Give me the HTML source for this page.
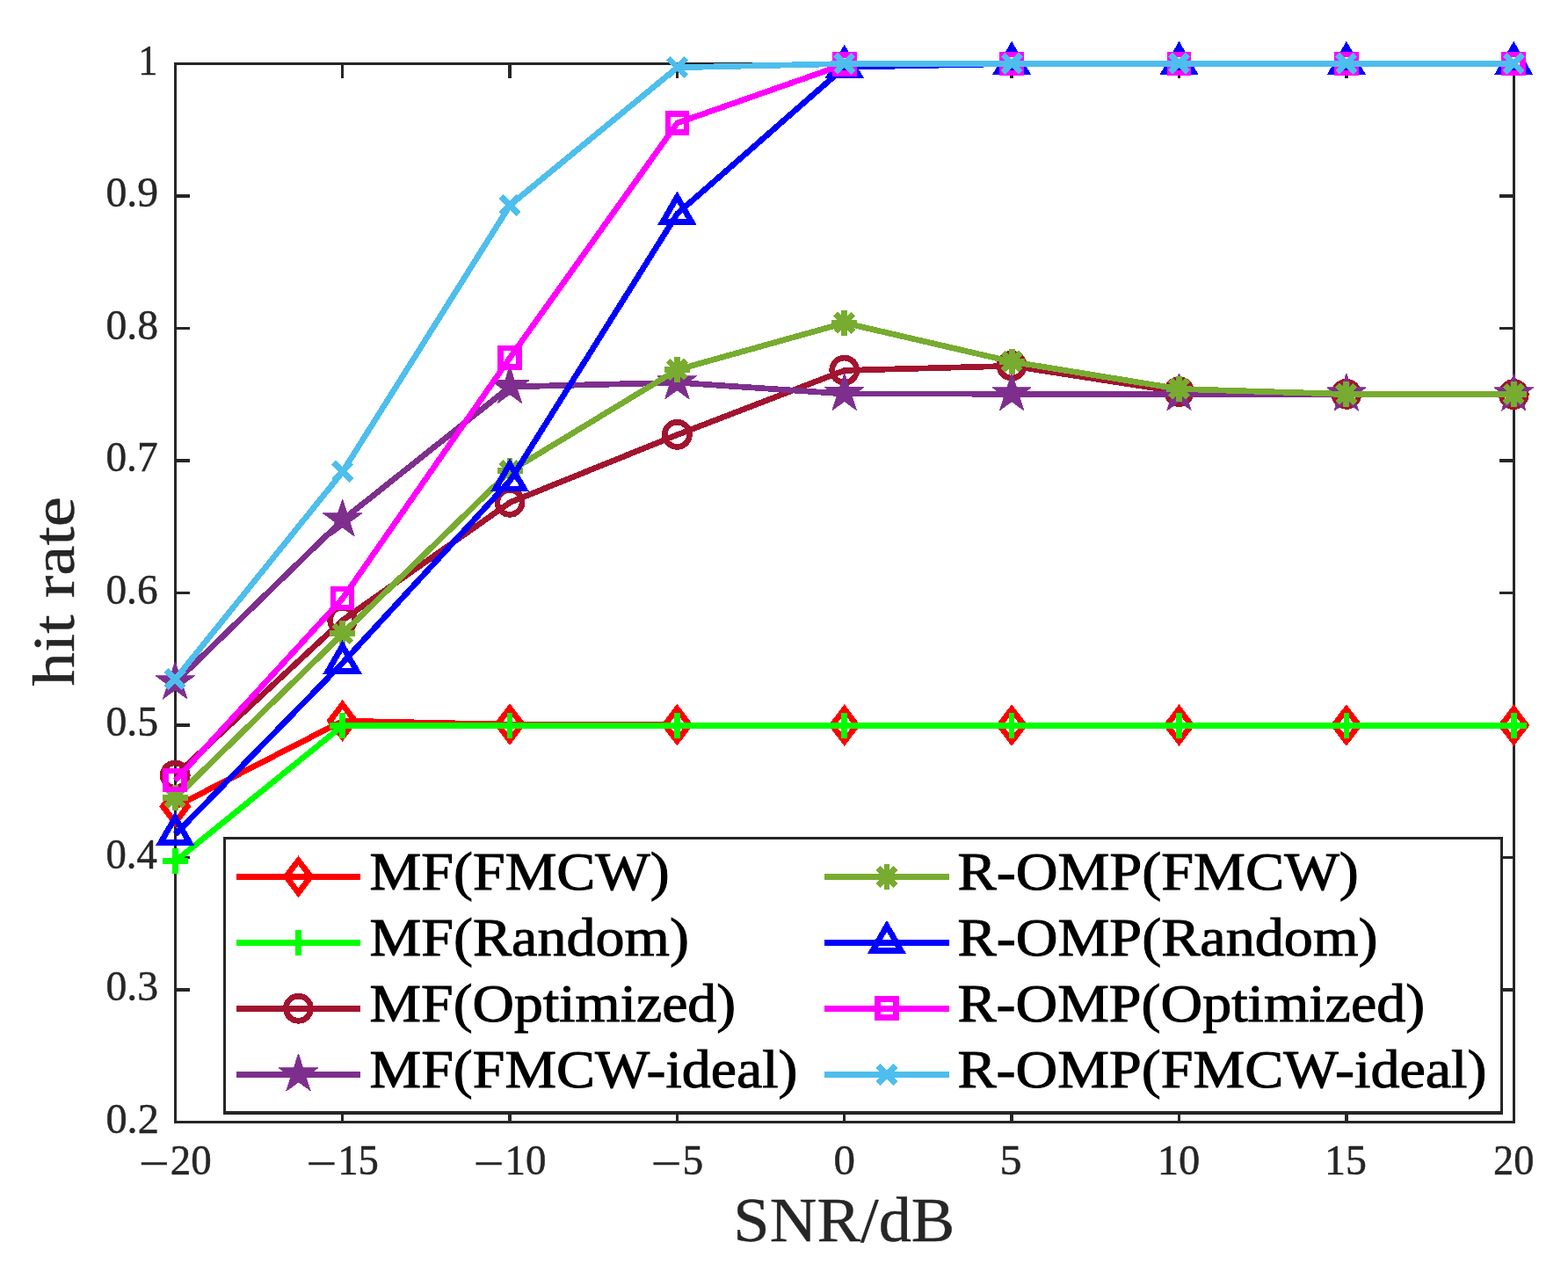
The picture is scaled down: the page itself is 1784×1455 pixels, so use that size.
<!DOCTYPE html>
<html lang="en"><head><meta charset="utf-8"><title>hit rate vs SNR/dB</title>
<style>html,body{margin:0;padding:0;background:#fff}body{width:1784px;height:1455px;overflow:hidden}svg{display:block}text{font-family:"Liberation Serif",serif;white-space:pre}</style>
</head><body>
<svg width="1784" height="1455" viewBox="0 0 1784 1455">
<rect width="1784" height="1455" fill="#ffffff"/>
<g fill="none" stroke="#262626" stroke-width="3.125" shape-rendering="crispEdges">
<rect x="199.5" y="72.5" width="1523" height="1204"/>
<path d="M389.5 72.5v16.5M389.5 1276.5v-16.5M580 72.5v16.5M580 1276.5v-16.5M770.5 72.5v16.5M770.5 1276.5v-16.5M960.5 72.5v16.5M960.5 1276.5v-16.5M1151 72.5v16.5M1151 1276.5v-16.5M1341.5 72.5v16.5M1341.5 1276.5v-16.5M1532 72.5v16.5M1532 1276.5v-16.5M199.5 223h16.5M1722.5 223h-16.5M199.5 373.5h16.5M1722.5 373.5h-16.5M199.5 524h16.5M1722.5 524h-16.5M199.5 674.5h16.5M1722.5 674.5h-16.5M199.5 825h16.5M1722.5 825h-16.5M199.5 975.5h16.5M1722.5 975.5h-16.5M199.5 1126h16.5M1722.5 1126h-16.5"/>
</g>
<text x="157.31" y="84.7" font-size="49" textLength="22.16" lengthAdjust="spacingAndGlyphs" fill="#262626" stroke="#262626" stroke-width="0.5">1</text>
<text x="120.45" y="235.2" font-size="49" textLength="59.65" lengthAdjust="spacingAndGlyphs" fill="#262626" stroke="#262626" stroke-width="0.5">0.9</text>
<text x="120.45" y="385.7" font-size="49" textLength="59.65" lengthAdjust="spacingAndGlyphs" fill="#262626" stroke="#262626" stroke-width="0.5">0.8</text>
<text x="120.46" y="536.2" font-size="49" textLength="59.14" lengthAdjust="spacingAndGlyphs" fill="#262626" stroke="#262626" stroke-width="0.5">0.7</text>
<text x="120.46" y="686.7" font-size="49" textLength="59.14" lengthAdjust="spacingAndGlyphs" fill="#262626" stroke="#262626" stroke-width="0.5">0.6</text>
<text x="120.45" y="837.2" font-size="49" textLength="59.65" lengthAdjust="spacingAndGlyphs" fill="#262626" stroke="#262626" stroke-width="0.5">0.5</text>
<text x="120.48" y="987.7" font-size="49" textLength="58.38" lengthAdjust="spacingAndGlyphs" fill="#262626" stroke="#262626" stroke-width="0.5">0.4</text>
<text x="120.45" y="1138.2" font-size="49" textLength="59.65" lengthAdjust="spacingAndGlyphs" fill="#262626" stroke="#262626" stroke-width="0.5">0.3</text>
<text x="120.42" y="1288.7" font-size="49" textLength="60.44" lengthAdjust="spacingAndGlyphs" fill="#262626" stroke="#262626" stroke-width="0.5">0.2</text>
<text y="1336" font-size="49" fill="#262626" stroke="#262626" stroke-width="0.5"><tspan x="158.32" y="1339.9" textLength="34.63" lengthAdjust="spacingAndGlyphs">−</tspan><tspan x="193.69" y="1336" textLength="46.93" lengthAdjust="spacingAndGlyphs">20</tspan></text>
<text y="1336" font-size="49" fill="#262626" stroke="#262626" stroke-width="0.5"><tspan x="348.72" y="1339.9" textLength="34.63" lengthAdjust="spacingAndGlyphs">−</tspan><tspan x="384.2" y="1336" textLength="46.65" lengthAdjust="spacingAndGlyphs">15</tspan></text>
<text y="1336" font-size="49" fill="#262626" stroke="#262626" stroke-width="0.5"><tspan x="539.07" y="1339.9" textLength="34.63" lengthAdjust="spacingAndGlyphs">−</tspan><tspan x="574.53" y="1336" textLength="46.95" lengthAdjust="spacingAndGlyphs">10</tspan></text>
<text y="1336" font-size="49" fill="#262626" stroke="#262626" stroke-width="0.5"><tspan x="741.02" y="1339.9" textLength="34.63" lengthAdjust="spacingAndGlyphs">−</tspan><tspan x="776.39" y="1336" textLength="23.69" lengthAdjust="spacingAndGlyphs">5</tspan></text>
<text y="1336" font-size="49" fill="#262626" stroke="#262626" stroke-width="0.5"><tspan x="948.4" y="1336" textLength="24.5" lengthAdjust="spacingAndGlyphs">0</tspan></text>
<text y="1336" font-size="49" fill="#262626" stroke="#262626" stroke-width="0.5"><tspan x="1137.64" y="1336" textLength="25.06" lengthAdjust="spacingAndGlyphs">5</tspan></text>
<text y="1336" font-size="49" fill="#262626" stroke="#262626" stroke-width="0.5"><tspan x="1316.69" y="1336" textLength="48.54" lengthAdjust="spacingAndGlyphs">10</tspan></text>
<text y="1336" font-size="49" fill="#262626" stroke="#262626" stroke-width="0.5"><tspan x="1506.99" y="1336" textLength="47.91" lengthAdjust="spacingAndGlyphs">15</tspan></text>
<text y="1336" font-size="49" fill="#262626" stroke="#262626" stroke-width="0.5"><tspan x="1699.02" y="1336" textLength="46.39" lengthAdjust="spacingAndGlyphs">20</tspan></text>
<text x="834.33" y="1411.7" font-size="71" textLength="252.09" lengthAdjust="spacingAndGlyphs" fill="#262626" stroke="#262626" stroke-width="0.4">SNR/dB</text>
<text transform="translate(83.9 779.8) rotate(-90)" x="-0.65" y="0" font-size="68" textLength="215.3" lengthAdjust="spacingAndGlyphs" fill="#262626" stroke="#262626" stroke-width="0.4">hit rate</text>
<g shape-rendering="crispEdges">
<g>
<polyline points="199.5,917.7 389.88,820.1 580.25,824.2 770.62,824.9 961,825.3 1151.38,825.3 1341.75,825.3 1532.12,825.3 1722.5,825.3" fill="none" stroke="#ff0000" stroke-width="6.7" stroke-linejoin="round"/>
<polygon points="199.25,899.05 213.25,917.45 199.25,935.85 185.25,917.45" fill="none" stroke="#ff0000" stroke-width="6.7" stroke-linejoin="miter" stroke-miterlimit="10"/>
<polygon points="389.62,801.45 403.62,819.85 389.62,838.25 375.62,819.85" fill="none" stroke="#ff0000" stroke-width="6.7" stroke-linejoin="miter" stroke-miterlimit="10"/>
<polygon points="580,805.55 594,823.95 580,842.35 566,823.95" fill="none" stroke="#ff0000" stroke-width="6.7" stroke-linejoin="miter" stroke-miterlimit="10"/>
<polygon points="770.38,806.25 784.38,824.65 770.38,843.05 756.38,824.65" fill="none" stroke="#ff0000" stroke-width="6.7" stroke-linejoin="miter" stroke-miterlimit="10"/>
<polygon points="960.75,806.65 974.75,825.05 960.75,843.45 946.75,825.05" fill="none" stroke="#ff0000" stroke-width="6.7" stroke-linejoin="miter" stroke-miterlimit="10"/>
<polygon points="1151.12,806.65 1165.12,825.05 1151.12,843.45 1137.12,825.05" fill="none" stroke="#ff0000" stroke-width="6.7" stroke-linejoin="miter" stroke-miterlimit="10"/>
<polygon points="1341.5,806.65 1355.5,825.05 1341.5,843.45 1327.5,825.05" fill="none" stroke="#ff0000" stroke-width="6.7" stroke-linejoin="miter" stroke-miterlimit="10"/>
<polygon points="1531.88,806.65 1545.88,825.05 1531.88,843.45 1517.88,825.05" fill="none" stroke="#ff0000" stroke-width="6.7" stroke-linejoin="miter" stroke-miterlimit="10"/>
<polygon points="1722.25,806.65 1736.25,825.05 1722.25,843.45 1708.25,825.05" fill="none" stroke="#ff0000" stroke-width="6.7" stroke-linejoin="miter" stroke-miterlimit="10"/>
</g>
<g>
<polyline points="199.5,979.7 389.88,825.4 580.25,825.4 770.62,825.4 961,825.4 1151.38,825.4 1341.75,825.4 1532.12,825.4 1722.5,825.4" fill="none" stroke="#00ff00" stroke-width="6.7" stroke-linejoin="round"/>
<path d="M184.7 979.45H213.8M199.25 964.9V994" fill="none" stroke="#00ff00" stroke-width="6.7"/>
<path d="M375.07 825.15H404.18M389.62 810.6V839.7" fill="none" stroke="#00ff00" stroke-width="6.7"/>
<path d="M565.45 825.15H594.55M580 810.6V839.7" fill="none" stroke="#00ff00" stroke-width="6.7"/>
<path d="M755.83 825.15H784.92M770.38 810.6V839.7" fill="none" stroke="#00ff00" stroke-width="6.7"/>
<path d="M946.2 825.15H975.3M960.75 810.6V839.7" fill="none" stroke="#00ff00" stroke-width="6.7"/>
<path d="M1136.58 825.15H1165.67M1151.12 810.6V839.7" fill="none" stroke="#00ff00" stroke-width="6.7"/>
<path d="M1326.95 825.15H1356.05M1341.5 810.6V839.7" fill="none" stroke="#00ff00" stroke-width="6.7"/>
<path d="M1517.33 825.15H1546.42M1531.88 810.6V839.7" fill="none" stroke="#00ff00" stroke-width="6.7"/>
<path d="M1707.7 825.15H1736.8M1722.25 810.6V839.7" fill="none" stroke="#00ff00" stroke-width="6.7"/>
</g>
<g>
<polyline points="199.5,882.3 389.88,705.5 580.25,571.6 770.62,494.6 961,421.4 1151.38,416.3 1341.75,445.8 1532.12,448.6 1722.5,448.8" fill="none" stroke="#a2142f" stroke-width="6.7" stroke-linejoin="round"/>
<circle cx="199.25" cy="882.05" r="14.05" fill="none" stroke="#a2142f" stroke-width="6.7"/>
<circle cx="389.62" cy="705.25" r="14.05" fill="none" stroke="#a2142f" stroke-width="6.7"/>
<circle cx="580" cy="571.35" r="14.05" fill="none" stroke="#a2142f" stroke-width="6.7"/>
<circle cx="770.38" cy="494.35" r="14.05" fill="none" stroke="#a2142f" stroke-width="6.7"/>
<circle cx="960.75" cy="421.15" r="14.05" fill="none" stroke="#a2142f" stroke-width="6.7"/>
<circle cx="1151.12" cy="416.05" r="14.05" fill="none" stroke="#a2142f" stroke-width="6.7"/>
<circle cx="1341.5" cy="445.55" r="14.05" fill="none" stroke="#a2142f" stroke-width="6.7"/>
<circle cx="1531.88" cy="448.35" r="14.05" fill="none" stroke="#a2142f" stroke-width="6.7"/>
<circle cx="1722.25" cy="448.55" r="14.05" fill="none" stroke="#a2142f" stroke-width="6.7"/>
</g>
<g>
<polyline points="199.5,776.3 389.88,591.4 580.25,440 770.62,435.2 961,448 1151.38,448.2 1341.75,448.3 1532.12,448.5 1722.5,448.5" fill="none" stroke="#7e2f8e" stroke-width="6.7" stroke-linejoin="round"/>
<polygon points="199.25,752.55 204.53,768.79 221.6,768.79 207.79,778.82 213.06,795.06 199.25,785.03 185.44,795.06 190.71,778.82 176.9,768.79 193.97,768.79" fill="#7e2f8e" stroke="#7e2f8e" stroke-width="0.8" stroke-linejoin="miter" stroke-miterlimit="10"/>
<polygon points="389.62,567.65 394.9,583.89 411.97,583.89 398.16,593.92 403.44,610.16 389.62,600.13 375.81,610.16 381.09,593.92 367.28,583.89 384.35,583.89" fill="#7e2f8e" stroke="#7e2f8e" stroke-width="0.8" stroke-linejoin="miter" stroke-miterlimit="10"/>
<polygon points="580,416.25 585.28,432.49 602.35,432.49 588.54,442.52 593.81,458.76 580,448.73 566.19,458.76 571.46,442.52 557.65,432.49 574.72,432.49" fill="#7e2f8e" stroke="#7e2f8e" stroke-width="0.8" stroke-linejoin="miter" stroke-miterlimit="10"/>
<polygon points="770.38,411.45 775.65,427.69 792.72,427.69 778.91,437.72 784.19,453.96 770.38,443.93 756.56,453.96 761.84,437.72 748.03,427.69 765.1,427.69" fill="#7e2f8e" stroke="#7e2f8e" stroke-width="0.8" stroke-linejoin="miter" stroke-miterlimit="10"/>
<polygon points="960.75,424.25 966.03,440.49 983.1,440.49 969.29,450.52 974.56,466.76 960.75,456.73 946.94,466.76 952.21,450.52 938.4,440.49 955.47,440.49" fill="#7e2f8e" stroke="#7e2f8e" stroke-width="0.8" stroke-linejoin="miter" stroke-miterlimit="10"/>
<polygon points="1151.12,424.45 1156.4,440.69 1173.47,440.69 1159.66,450.72 1164.94,466.96 1151.12,456.93 1137.31,466.96 1142.59,450.72 1128.78,440.69 1145.85,440.69" fill="#7e2f8e" stroke="#7e2f8e" stroke-width="0.8" stroke-linejoin="miter" stroke-miterlimit="10"/>
<polygon points="1341.5,424.55 1346.78,440.79 1363.85,440.79 1350.04,450.82 1355.31,467.06 1341.5,457.03 1327.69,467.06 1332.96,450.82 1319.15,440.79 1336.22,440.79" fill="#7e2f8e" stroke="#7e2f8e" stroke-width="0.8" stroke-linejoin="miter" stroke-miterlimit="10"/>
<polygon points="1531.88,424.75 1537.15,440.99 1554.22,440.99 1540.41,451.02 1545.69,467.26 1531.88,457.23 1518.06,467.26 1523.34,451.02 1509.53,440.99 1526.6,440.99" fill="#7e2f8e" stroke="#7e2f8e" stroke-width="0.8" stroke-linejoin="miter" stroke-miterlimit="10"/>
<polygon points="1722.25,424.75 1727.53,440.99 1744.6,440.99 1730.79,451.02 1736.06,467.26 1722.25,457.23 1708.44,467.26 1713.71,451.02 1699.9,440.99 1716.97,440.99" fill="#7e2f8e" stroke="#7e2f8e" stroke-width="0.8" stroke-linejoin="miter" stroke-miterlimit="10"/>
</g>
<g>
<polyline points="199.5,907.6 389.88,721 580.25,536 770.62,420.6 961,367.4 1151.38,411.5 1341.75,442.5 1532.12,448.4 1722.5,448.6" fill="none" stroke="#77ac30" stroke-width="6.7" stroke-linejoin="round"/>
<path d="M184.75 907.35H213.75M199.25 892.85V921.85M189.15 897.25L209.35 917.45M189.15 917.45L209.35 897.25" fill="none" stroke="#77ac30" stroke-width="6.8"/>
<path d="M375.12 720.75H404.12M389.62 706.25V735.25M379.52 710.65L399.73 730.85M379.52 730.85L399.73 710.65" fill="none" stroke="#77ac30" stroke-width="6.8"/>
<path d="M565.5 535.75H594.5M580 521.25V550.25M569.9 525.65L590.1 545.85M569.9 545.85L590.1 525.65" fill="none" stroke="#77ac30" stroke-width="6.8"/>
<path d="M755.88 420.35H784.88M770.38 405.85V434.85M760.27 410.25L780.48 430.45M760.27 430.45L780.48 410.25" fill="none" stroke="#77ac30" stroke-width="6.8"/>
<path d="M946.25 367.15H975.25M960.75 352.65V381.65M950.65 357.05L970.85 377.25M950.65 377.25L970.85 357.05" fill="none" stroke="#77ac30" stroke-width="6.8"/>
<path d="M1136.62 411.25H1165.62M1151.12 396.75V425.75M1141.03 401.15L1161.22 421.35M1141.03 421.35L1161.22 401.15" fill="none" stroke="#77ac30" stroke-width="6.8"/>
<path d="M1327 442.25H1356M1341.5 427.75V456.75M1331.4 432.15L1351.6 452.35M1331.4 452.35L1351.6 432.15" fill="none" stroke="#77ac30" stroke-width="6.8"/>
<path d="M1517.38 448.15H1546.38M1531.88 433.65V462.65M1521.78 438.05L1541.97 458.25M1521.78 458.25L1541.97 438.05" fill="none" stroke="#77ac30" stroke-width="6.8"/>
<path d="M1707.75 448.35H1736.75M1722.25 433.85V462.85M1712.15 438.25L1732.35 458.45M1712.15 458.45L1732.35 438.25" fill="none" stroke="#77ac30" stroke-width="6.8"/>
</g>
<g>
<polyline points="199.5,949.2 389.88,754 580.25,546.9 770.62,243.1 961,76.3 1151.38,72.5 1341.75,72.5 1532.12,72.5 1722.5,72.5" fill="none" stroke="#0000ff" stroke-width="6.7" stroke-linejoin="round"/>
<polygon points="199.25,930.1 215.57,958.38 182.93,958.38" fill="none" stroke="#0000ff" stroke-width="6.7" stroke-linejoin="miter" stroke-miterlimit="10"/>
<polygon points="389.62,734.9 405.95,763.17 373.3,763.17" fill="none" stroke="#0000ff" stroke-width="6.7" stroke-linejoin="miter" stroke-miterlimit="10"/>
<polygon points="580,527.8 596.32,556.07 563.68,556.07" fill="none" stroke="#0000ff" stroke-width="6.7" stroke-linejoin="miter" stroke-miterlimit="10"/>
<polygon points="770.38,224 786.7,252.28 754.05,252.28" fill="none" stroke="#0000ff" stroke-width="6.7" stroke-linejoin="miter" stroke-miterlimit="10"/>
<polygon points="960.75,57.2 977.07,85.47 944.43,85.47" fill="none" stroke="#0000ff" stroke-width="6.7" stroke-linejoin="miter" stroke-miterlimit="10"/>
<polygon points="1151.12,53.4 1167.45,81.67 1134.8,81.67" fill="none" stroke="#0000ff" stroke-width="6.7" stroke-linejoin="miter" stroke-miterlimit="10"/>
<polygon points="1341.5,53.4 1357.82,81.67 1325.18,81.67" fill="none" stroke="#0000ff" stroke-width="6.7" stroke-linejoin="miter" stroke-miterlimit="10"/>
<polygon points="1531.88,53.4 1548.2,81.67 1515.55,81.67" fill="none" stroke="#0000ff" stroke-width="6.7" stroke-linejoin="miter" stroke-miterlimit="10"/>
<polygon points="1722.25,53.4 1738.57,81.67 1705.93,81.67" fill="none" stroke="#0000ff" stroke-width="6.7" stroke-linejoin="miter" stroke-miterlimit="10"/>
</g>
<g>
<polyline points="199.5,887.75 389.88,680.7 580.25,406.9 770.62,139.9 961,73.1 1151.38,72.75 1341.75,72.75 1532.12,72.75 1722.5,72.75" fill="none" stroke="#ff00ff" stroke-width="6.7" stroke-linejoin="round"/>
<rect x="188.75" y="877" width="21" height="21" fill="none" stroke="#ff00ff" stroke-width="6.7"/>
<rect x="379.12" y="669.95" width="21" height="21" fill="none" stroke="#ff00ff" stroke-width="6.7"/>
<rect x="569.5" y="396.15" width="21" height="21" fill="none" stroke="#ff00ff" stroke-width="6.7"/>
<rect x="759.88" y="129.15" width="21" height="21" fill="none" stroke="#ff00ff" stroke-width="6.7"/>
<rect x="950.25" y="62.35" width="21" height="21" fill="none" stroke="#ff00ff" stroke-width="6.7"/>
<rect x="1140.62" y="62" width="21" height="21" fill="none" stroke="#ff00ff" stroke-width="6.7"/>
<rect x="1331" y="62" width="21" height="21" fill="none" stroke="#ff00ff" stroke-width="6.7"/>
<rect x="1521.38" y="62" width="21" height="21" fill="none" stroke="#ff00ff" stroke-width="6.7"/>
<rect x="1711.75" y="62" width="21" height="21" fill="none" stroke="#ff00ff" stroke-width="6.7"/>
</g>
<g>
<polyline points="199.5,772.7 389.88,536.6 580.25,233.5 770.62,76.8 961,72.5 1151.38,72.5 1341.75,72.5 1532.12,72.5 1722.5,72.5" fill="none" stroke="#4dbeee" stroke-width="6.7" stroke-linejoin="round"/>
<path d="M189.15 762.35L209.35 782.55M189.15 782.55L209.35 762.35" fill="none" stroke="#4dbeee" stroke-width="6.8"/>
<path d="M379.52 526.25L399.73 546.45M379.52 546.45L399.73 526.25" fill="none" stroke="#4dbeee" stroke-width="6.8"/>
<path d="M569.9 223.15L590.1 243.35M569.9 243.35L590.1 223.15" fill="none" stroke="#4dbeee" stroke-width="6.8"/>
<path d="M760.27 66.45L780.48 86.65M760.27 86.65L780.48 66.45" fill="none" stroke="#4dbeee" stroke-width="6.8"/>
<path d="M950.65 62.15L970.85 82.35M950.65 82.35L970.85 62.15" fill="none" stroke="#4dbeee" stroke-width="6.8"/>
<path d="M1141.03 62.15L1161.22 82.35M1141.03 82.35L1161.22 62.15" fill="none" stroke="#4dbeee" stroke-width="6.8"/>
<path d="M1331.4 62.15L1351.6 82.35M1331.4 82.35L1351.6 62.15" fill="none" stroke="#4dbeee" stroke-width="6.8"/>
<path d="M1521.78 62.15L1541.97 82.35M1521.78 82.35L1541.97 62.15" fill="none" stroke="#4dbeee" stroke-width="6.8"/>
<path d="M1712.15 62.15L1732.35 82.35M1712.15 82.35L1732.35 62.15" fill="none" stroke="#4dbeee" stroke-width="6.8"/>
</g>
</g>
<path d="M254 952H1710V1268H254Z" fill="#262626" shape-rendering="crispEdges"/>
<path d="M257 955H1707V1264H257Z" fill="#ffffff" shape-rendering="crispEdges"/>
<g shape-rendering="crispEdges">
<path d="M269 997.5H410" fill="none" stroke="#ff0000" stroke-width="6.7"/>
<polygon points="339.5,978.85 353.5,997.25 339.5,1015.65 325.5,997.25" fill="none" stroke="#ff0000" stroke-width="6.7" stroke-linejoin="miter" stroke-miterlimit="10"/>
<path d="M938 997.5H1080" fill="none" stroke="#77ac30" stroke-width="6.7"/>
<path d="M994.5 997.25H1023.5M1009 982.75V1011.75M998.9 987.15L1019.1 1007.35M998.9 1007.35L1019.1 987.15" fill="none" stroke="#77ac30" stroke-width="6.8"/>
<path d="M269 1072.5H410" fill="none" stroke="#00ff00" stroke-width="6.7"/>
<path d="M324.95 1072.25H354.05M339.5 1057.7V1086.8" fill="none" stroke="#00ff00" stroke-width="6.7"/>
<path d="M938 1072.5H1080" fill="none" stroke="#0000ff" stroke-width="6.7"/>
<polygon points="1009,1053.4 1025.32,1081.67 992.68,1081.67" fill="none" stroke="#0000ff" stroke-width="6.7" stroke-linejoin="miter" stroke-miterlimit="10"/>
<path d="M269 1147.5H410" fill="none" stroke="#a2142f" stroke-width="6.7"/>
<circle cx="339.5" cy="1147.25" r="14.05" fill="none" stroke="#a2142f" stroke-width="6.7"/>
<path d="M938 1147.5H1080" fill="none" stroke="#ff00ff" stroke-width="6.7"/>
<rect x="998.5" y="1136.75" width="21" height="21" fill="none" stroke="#ff00ff" stroke-width="6.7"/>
<path d="M269 1222.5H410" fill="none" stroke="#7e2f8e" stroke-width="6.7"/>
<polygon points="339.5,1198.75 344.78,1214.99 361.85,1214.99 348.04,1225.02 353.31,1241.26 339.5,1231.23 325.69,1241.26 330.96,1225.02 317.15,1214.99 334.22,1214.99" fill="#7e2f8e" stroke="#7e2f8e" stroke-width="0.8" stroke-linejoin="miter" stroke-miterlimit="10"/>
<path d="M938 1222.5H1080" fill="none" stroke="#4dbeee" stroke-width="6.7"/>
<path d="M998.9 1212.15L1019.1 1232.35M998.9 1232.35L1019.1 1212.15" fill="none" stroke="#4dbeee" stroke-width="6.8"/>
</g>
<text x="420.61" y="1012.2" font-size="61" textLength="341.03" lengthAdjust="spacingAndGlyphs" fill="#000000" stroke="#000000" stroke-width="1">MF(FMCW)</text>
<text x="1089.5" y="1012.2" font-size="61" textLength="456.22" lengthAdjust="spacingAndGlyphs" fill="#000000" stroke="#000000" stroke-width="1">R-OMP(FMCW)</text>
<text x="420.61" y="1087.2" font-size="61" textLength="363.27" lengthAdjust="spacingAndGlyphs" fill="#000000" stroke="#000000" stroke-width="1">MF(Random)</text>
<text x="1089.5" y="1087.2" font-size="61" textLength="477.98" lengthAdjust="spacingAndGlyphs" fill="#000000" stroke="#000000" stroke-width="1">R-OMP(Random)</text>
<text x="420.61" y="1162.2" font-size="61" textLength="416.53" lengthAdjust="spacingAndGlyphs" fill="#000000" stroke="#000000" stroke-width="1">MF(Optimized)</text>
<text x="1089.51" y="1162.2" font-size="61" textLength="531.7" lengthAdjust="spacingAndGlyphs" fill="#000000" stroke="#000000" stroke-width="1">R-OMP(Optimized)</text>
<text x="420.61" y="1237.2" font-size="61" textLength="486.83" lengthAdjust="spacingAndGlyphs" fill="#000000" stroke="#000000" stroke-width="1">MF(FMCW-ideal)</text>
<text x="1089.5" y="1237.2" font-size="61" textLength="601.99" lengthAdjust="spacingAndGlyphs" fill="#000000" stroke="#000000" stroke-width="1">R-OMP(FMCW-ideal)</text>
</svg>
</body></html>
